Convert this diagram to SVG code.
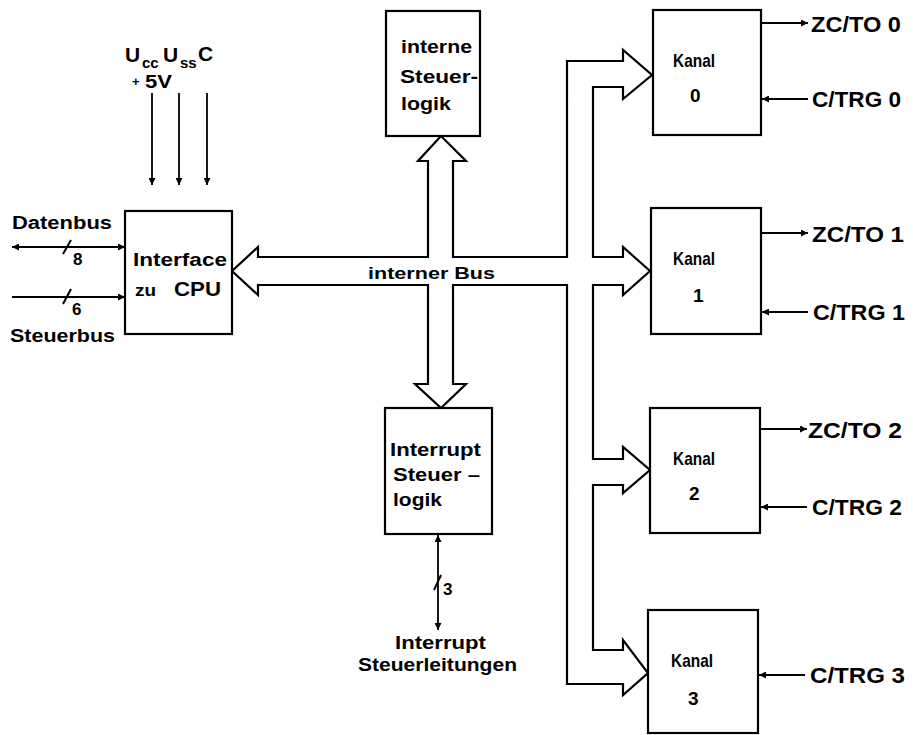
<svg xmlns="http://www.w3.org/2000/svg" width="913" height="735" viewBox="0 0 913 735">
<style>
  .box { fill: #fff; stroke: #000; stroke-width: 2.2; }
  .bus { fill: #fff; stroke: #000; stroke-width: 2.2; stroke-linejoin: miter; }
  .ln { fill: none; stroke: #000; stroke-width: 1.8; }
  .sl { fill: none; stroke: #000; stroke-width: 2; }
  text { font-family: "Liberation Sans", Arial, sans-serif; font-weight: bold; fill: #000; }
  .t18 { font-size: 18px; }
  .t17 { font-size: 17px; }
  .t22 { font-size: 22px; }
  .k { font-size: 19px; }
</style>
<defs>
  <marker id="ah" viewBox="0 0 10 10" refX="10" refY="5" markerWidth="10" markerHeight="7" orient="auto-start-reverse" markerUnits="userSpaceOnUse">
    <path d="M0,0 L10,5 L0,10 z" fill="#000"/>
  </marker>
</defs>
<rect width="913" height="735" fill="#fff"/>

<g id="connectors">
  <path class="bus" d="M232,271 L258,247 L258,257 L428,257 L428,161 L418,161 L441,136 L466,161 L453,161 L453,257 L567,257 L567,61 L623,61 L623,50 L652,75 L623,99 L623,87 L593,87 L593,257 L623,257 L623,247 L650,271 L623,295 L623,285 L593,285 L593,459 L623,459 L623,447 L650,470 L623,493 L623,485 L593,485 L593,650 L623,650 L623,640 L648,673 L623,695 L623,684 L567,684 L567,285 L453,285 L453,384 L466,384 L441,408 L415,384 L428,384 L428,285 L258,285 L258,295 Z"/>
  <!-- supply arrows -->
  <line class="ln" x1="152" y1="93" x2="152" y2="185" marker-end="url(#ah)"/>
  <line class="ln" x1="179" y1="93" x2="179" y2="185" marker-end="url(#ah)"/>
  <line class="ln" x1="207" y1="93" x2="207" y2="185" marker-end="url(#ah)"/>
  <!-- Datenbus / Steuerbus -->
  <line class="ln" x1="12" y1="247" x2="125" y2="247" marker-start="url(#ah)" marker-end="url(#ah)"/>
  <line class="sl" x1="63" y1="254" x2="71" y2="240"/>
  <line class="ln" x1="12" y1="297" x2="125" y2="297" marker-end="url(#ah)"/>
  <line class="sl" x1="63" y1="304" x2="71" y2="289"/>
  <!-- Interrupt lines -->
  <line class="ln" x1="438" y1="535" x2="438" y2="630" marker-start="url(#ah)" marker-end="url(#ah)"/>
  <line class="sl" x1="434" y1="590" x2="441" y2="575"/>
  <!-- channel outputs/inputs -->
  <line class="ln" x1="762" y1="23" x2="808" y2="23" marker-end="url(#ah)"/>
  <line class="ln" x1="808" y1="99" x2="762" y2="99" marker-end="url(#ah)"/>
  <line class="ln" x1="762" y1="233" x2="808" y2="233" marker-end="url(#ah)"/>
  <line class="ln" x1="808" y1="312" x2="762" y2="312" marker-end="url(#ah)"/>
  <line class="ln" x1="761" y1="429" x2="807" y2="429" marker-end="url(#ah)"/>
  <line class="ln" x1="807" y1="507" x2="761" y2="507" marker-end="url(#ah)"/>
  <line class="ln" x1="805" y1="675" x2="759" y2="675" marker-end="url(#ah)"/>
</g>

<g id="labels">
  <text x="125" y="62" font-size="21">U</text>
  <text x="142" y="68" font-size="15">cc</text>
  <text x="163" y="62" font-size="21">U</text>
  <text x="180" y="68" font-size="15">ss</text>
  <text x="198" y="61" font-size="21">C</text>
  <text x="132" y="86" font-size="13">+</text>
  <text x="145" y="88" class="t18" textLength="27" lengthAdjust="spacingAndGlyphs">5V</text>
  <text x="12" y="229" class="t18" textLength="100" lengthAdjust="spacingAndGlyphs">Datenbus</text>
  <text x="73" y="265" class="t17">8</text>
  <text x="72" y="315" class="t17">6</text>
  <text x="10" y="342" class="t18" textLength="105" lengthAdjust="spacingAndGlyphs">Steuerbus</text>
  <text x="368" y="279" class="t17" textLength="127" lengthAdjust="spacingAndGlyphs">interner Bus</text>
  <text x="443" y="595" class="t17">3</text>
  <text x="395" y="649" class="t18" textLength="91" lengthAdjust="spacingAndGlyphs">Interrupt</text>
  <text x="358" y="671" class="t18" textLength="159" lengthAdjust="spacingAndGlyphs">Steuerleitungen</text>
  <text x="811" y="32" class="t22" textLength="90" lengthAdjust="spacingAndGlyphs">ZC/TO 0</text>
  <text x="812" y="107" class="t22" textLength="89" lengthAdjust="spacingAndGlyphs">C/TRG 0</text>
  <text x="812" y="242" class="t22" textLength="92" lengthAdjust="spacingAndGlyphs">ZC/TO 1</text>
  <text x="813" y="320" class="t22" textLength="92" lengthAdjust="spacingAndGlyphs">C/TRG 1</text>
  <text x="808" y="438" class="t22" textLength="94" lengthAdjust="spacingAndGlyphs">ZC/TO 2</text>
  <text x="812" y="515" class="t22" textLength="90" lengthAdjust="spacingAndGlyphs">C/TRG 2</text>
  <text x="810" y="683" class="t22" textLength="95" lengthAdjust="spacingAndGlyphs">C/TRG 3</text>
</g>

<g id="interface">
  <rect class="box" x="125" y="211" width="107" height="123"/>
  <text x="133" y="266" class="t18" textLength="94" lengthAdjust="spacingAndGlyphs">Interface</text>
  <text x="135" y="296" class="t17" textLength="21" lengthAdjust="spacingAndGlyphs">zu</text>
  <text x="174" y="296" font-size="21" textLength="47" lengthAdjust="spacingAndGlyphs">CPU</text>
</g>

<g id="steuerlogik">
  <rect class="box" x="386" y="11" width="94" height="125"/>
  <text x="401" y="53" class="t18" textLength="71" lengthAdjust="spacingAndGlyphs">interne</text>
  <text x="400" y="83" class="t18" textLength="78" lengthAdjust="spacingAndGlyphs">Steuer-</text>
  <text x="401" y="110" class="t18" textLength="50" lengthAdjust="spacingAndGlyphs">logik</text>
</g>

<g id="interrupt">
  <rect class="box" x="385" y="408" width="107" height="126"/>
  <text x="390" y="456" class="t18" textLength="91" lengthAdjust="spacingAndGlyphs">Interrupt</text>
  <text x="393" y="481" class="t18" textLength="87" lengthAdjust="spacingAndGlyphs">Steuer –</text>
  <text x="393" y="506" class="t18" textLength="49" lengthAdjust="spacingAndGlyphs">logik</text>
</g>

<g id="kanal0">
  <rect class="box" x="653" y="10" width="108" height="125"/>
  <text x="673" y="67" class="k" textLength="42" lengthAdjust="spacingAndGlyphs">Kanal</text>
  <text x="690" y="102" class="k">0</text>
</g>
<g id="kanal1">
  <rect class="box" x="651" y="208" width="110" height="126"/>
  <text x="673" y="265" class="k" textLength="42" lengthAdjust="spacingAndGlyphs">Kanal</text>
  <text x="693" y="302" class="k">1</text>
</g>
<g id="kanal2">
  <rect class="box" x="650" y="408" width="110" height="125"/>
  <text x="673" y="465" class="k" textLength="42" lengthAdjust="spacingAndGlyphs">Kanal</text>
  <text x="689" y="500" class="k">2</text>
</g>
<g id="kanal3">
  <rect class="box" x="648" y="610" width="110" height="123"/>
  <text x="671" y="667" class="k" textLength="42" lengthAdjust="spacingAndGlyphs">Kanal</text>
  <text x="688" y="705" class="k">3</text>
</g>
</svg>
